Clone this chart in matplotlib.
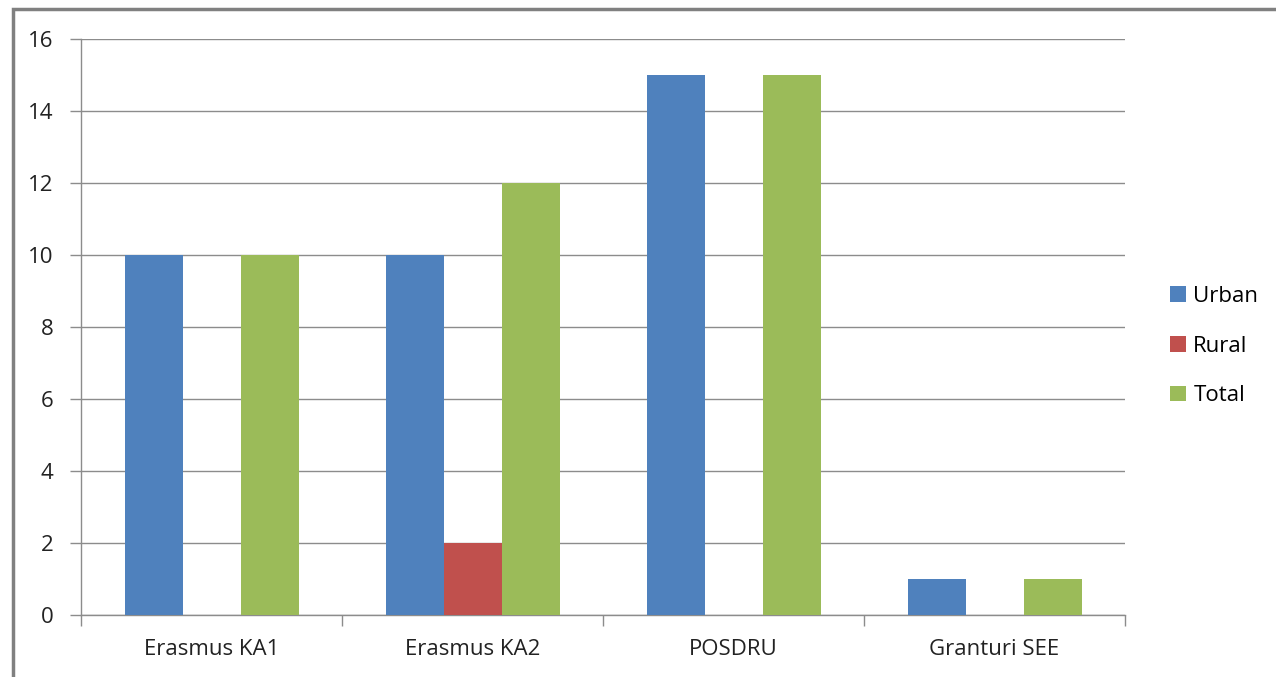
import matplotlib
matplotlib.use("Agg")
import matplotlib.pyplot as plt
from matplotlib.patches import Rectangle
import numpy as np

categories = ["Erasmus KA1", "Erasmus KA2", "POSDRU", "Granturi SEE"]
series_names = ["Urban", "Rural", "Total"]
urban = [10, 10, 15, 1]
rural = [0, 2, 0, 0]
total = [10, 12, 15, 1]
colors = ["#4F81BD", "#C0504D", "#9BBB59"]
y_ticks = [0, 2, 4, 6, 8, 10, 12, 14, 16]

plt.rcParams['font.family'] = ['Open Sans', 'DejaVu Sans']

W, H = 1276, 677
fs = 16
fig = plt.figure(figsize=(W / 100, H / 100), dpi=100)
ax = fig.add_axes([81 / W, 1 - 615 / H, (1125 - 81) / W, (615 - 39) / H])

x = np.arange(len(categories))
bw = 1 / 4.5
for i, (vals, name, c) in enumerate(zip([urban, rural, total], series_names, colors)):
    ax.bar(x + (i - 1) * bw, vals, width=bw, color=c, label=name, zorder=3)

ax.set_xlim(-0.5, len(categories) - 0.5)
ax.set_ylim(0, 16)
ax.set_yticks(y_ticks)
ax.set_yticklabels([str(v) for v in y_ticks], fontsize=fs, color="#222222")
ax.yaxis.grid(True, color="#8c8c8c", linewidth=1, zorder=0)
ax.set_xticks(x)
ax.set_xticklabels(categories, fontsize=fs, color="#222222")
ax.set_xticks(np.arange(-0.5, len(categories)), minor=True)
ax.tick_params(axis="x", which="major", length=0, pad=17)
ax.tick_params(axis="x", which="minor", length=8, color="#8c8c8c", width=1)
ax.tick_params(axis="y", length=8, color="#8c8c8c", width=1, pad=12)
for s in ["top", "right"]:
    ax.spines[s].set_visible(False)
for s in ["left", "bottom"]:
    ax.spines[s].set_color("#8c8c8c")
    ax.spines[s].set_linewidth(1)

leg = fig.legend(loc="center left", bbox_to_anchor=(1150 / W, 1 - 346 / H),
                 frameon=False, fontsize=fs, handlelength=0.7, handleheight=0.7,
                 handletextpad=0.35, labelspacing=1.3)

fig.patches.append(Rectangle((12.5 / W, -0.1), 2.0, 1 - 9 / H + 0.1, transform=fig.transFigure,
                             fill=False, edgecolor="#808080", linewidth=2.5))

fig.savefig("out.png", dpi=100)
